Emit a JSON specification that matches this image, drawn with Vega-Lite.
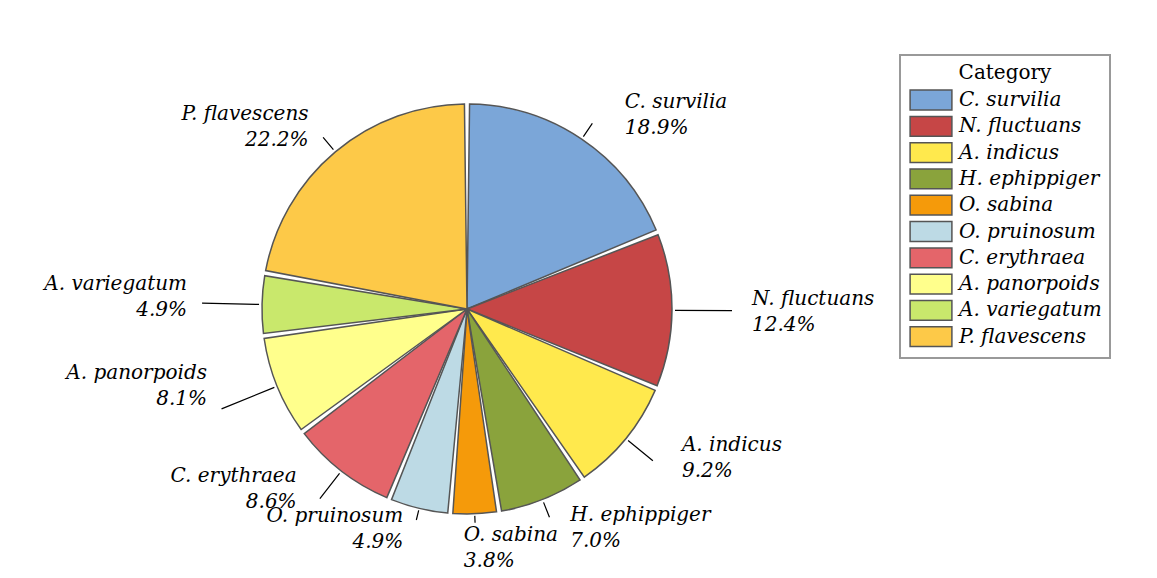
{
  "$schema": "https://vega.github.io/schema/vega-lite/v6.json",
  "width": 934,
  "height": 538,
  "autosize": {"type": "none"},
  "padding": {"left": 0, "top": 40, "right": 223, "bottom": 0},
  "background": "white",
  "config": {"view": {"stroke": null}, "font": "DejaVu Serif"},
  "data": {
    "values": [
      {"species": "C. survilia", "pct": 18.9, "rank": 1},
      {"species": "N. fluctuans", "pct": 12.4, "rank": 2},
      {"species": "A. indicus", "pct": 9.2, "rank": 3},
      {"species": "H. ephippiger", "pct": 7.0, "rank": 4},
      {"species": "O. sabina", "pct": 3.8, "rank": 5},
      {"species": "O. pruinosum", "pct": 4.9, "rank": 6},
      {"species": "C. erythraea", "pct": 8.6, "rank": 7},
      {"species": "A. panorpoids", "pct": 8.1, "rank": 8},
      {"species": "A. variegatum", "pct": 4.9, "rank": 9},
      {"species": "P. flavescens", "pct": 22.2, "rank": 10}
    ]
  },
  "transform": [
    {"calculate": "datum.species + '\\n' + format(datum.pct, '.1f') + '%'", "as": "label"}
  ],
  "encoding": {
    "theta": {"field": "pct", "type": "quantitative", "stack": true},
    "order": {"field": "rank", "type": "quantitative"},
    "detail": {"field": "species", "type": "nominal"}
  },
  "layer": [
    {
      "mark": {"type": "arc", "radius": 205, "stroke": "#555555", "strokeWidth": 1.5, "padAngle": 0.025},
      "encoding": {
        "color": {
          "field": "species",
          "type": "nominal",
          "scale": {
            "domain": ["C. survilia", "N. fluctuans", "A. indicus", "H. ephippiger", "O. sabina", "O. pruinosum", "C. erythraea", "A. panorpoids", "A. variegatum", "P. flavescens"],
            "range": ["#7BA6D8", "#C64646", "#FFE94D", "#8AA33C", "#F59A0A", "#BDDAE5", "#E4656A", "#FFFF8C", "#C9E86C", "#FDC948"]
          },
          "legend": {
            "title": "Category",
            "orient": "none",
            "legendX": 900,
            "legendY": 15,
            "symbolType": "M-1.9,-0.9H1.9V0.9H-1.9Z",
            "symbolSize": 484,
            "symbolStrokeColor": "#555555",
            "symbolStrokeWidth": 1.5,
            "symbolOpacity": 1,
            "labelFont": "DejaVu Serif",
            "labelFontStyle": "italic",
            "labelFontSize": 20,
            "labelColor": "black",
            "labelLimit": 400,
            "labelOffset": 16,
            "symbolOffset": 11,
            "titleFont": "DejaVu Serif",
            "titleFontSize": 20,
            "titleFontWeight": "normal",
            "titleColor": "black",
            "titleAnchor": "middle",
            "titlePadding": 5,
            "strokeColor": "#999999",
            "fillColor": "white",
            "padding": 8,
            "rowPadding": 0.3,
            "encode": {"legend": {"update": {"strokeWidth": {"value": 2}}}}
          }
        }
      }
    },
    {
      "mark": {"type": "arc", "outerRadius": 224, "innerRadius": 208, "padAngle": 3, "stroke": "black", "strokeWidth": 1.2, "fillOpacity": 0},
      "encoding": {"strokeOpacity": {"condition": {"test": "indexof(['C. survilia','H. ephippiger','P. flavescens'], datum.species) >= 0", "value": 1}, "value": 0}}
    },
    {
      "mark": {"type": "arc", "outerRadius": 217, "innerRadius": 207, "padAngle": 3, "stroke": "black", "strokeWidth": 1.2, "fillOpacity": 0},
      "encoding": {"strokeOpacity": {"condition": {"test": "datum.species === 'O. pruinosum'", "value": 1}, "value": 0}}
    },
    {
      "mark": {"type": "arc", "outerRadius": 214, "innerRadius": 207, "padAngle": 3, "stroke": "black", "strokeWidth": 1.2, "fillOpacity": 0},
      "encoding": {"strokeOpacity": {"condition": {"test": "datum.species === 'O. sabina'", "value": 1}, "value": 0}}
    },
    {
      "mark": {"type": "arc", "outerRadius": 240, "innerRadius": 208, "padAngle": 3, "stroke": "black", "strokeWidth": 1.2, "fillOpacity": 0},
      "encoding": {"strokeOpacity": {"condition": {"test": "indexof(['A. indicus','C. erythraea'], datum.species) >= 0", "value": 1}, "value": 0}}
    },
    {
      "mark": {"type": "arc", "outerRadius": 265, "innerRadius": 208, "padAngle": 3, "stroke": "black", "strokeWidth": 1.2, "fillOpacity": 0},
      "encoding": {"strokeOpacity": {"condition": {"test": "indexof(['N. fluctuans','A. panorpoids','A. variegatum'], datum.species) >= 0", "value": 1}, "value": 0}}
    },
    {
      "mark": {"type": "text", "radius": 250, "dx": 18, "dy": 0, "align": "left", "baseline": "middle", "font": "DejaVu Serif", "fontStyle": "italic", "fontSize": 20, "lineBreak": "\n", "lineHeight": 26, "color": "black"},
      "encoding": {"text": {"condition": {"test": "datum.species === 'C. survilia'", "field": "label", "type": "nominal"}, "value": ""}}
    },
    {
      "mark": {"type": "text", "radius": 285, "dx": 0, "dy": -12, "align": "left", "baseline": "middle", "font": "DejaVu Serif", "fontStyle": "italic", "fontSize": 20, "lineBreak": "\n", "lineHeight": 26, "color": "black"},
      "encoding": {"text": {"condition": {"test": "datum.species === 'N. fluctuans'", "field": "label", "type": "nominal"}, "value": ""}}
    },
    {
      "mark": {"type": "text", "radius": 262, "dx": 12, "dy": -30, "align": "left", "baseline": "middle", "font": "DejaVu Serif", "fontStyle": "italic", "fontSize": 20, "lineBreak": "\n", "lineHeight": 26, "color": "black"},
      "encoding": {"text": {"condition": {"test": "datum.species === 'A. indicus'", "field": "label", "type": "nominal"}, "value": ""}}
    },
    {
      "mark": {"type": "text", "radius": 237, "dx": 16, "dy": -14, "align": "left", "baseline": "middle", "font": "DejaVu Serif", "fontStyle": "italic", "fontSize": 20, "lineBreak": "\n", "lineHeight": 26, "color": "black"},
      "encoding": {"text": {"condition": {"test": "datum.species === 'H. ephippiger'", "field": "label", "type": "nominal"}, "value": ""}}
    },
    {
      "mark": {"type": "text", "radius": 234, "dx": -12, "dy": -8, "align": "left", "baseline": "middle", "font": "DejaVu Serif", "fontStyle": "italic", "fontSize": 20, "lineBreak": "\n", "lineHeight": 26, "color": "black"},
      "encoding": {"text": {"condition": {"test": "datum.species === 'O. sabina'", "field": "label", "type": "nominal"}, "value": ""}}
    },
    {
      "mark": {"type": "text", "radius": 226, "dx": -11, "dy": -13, "align": "right", "baseline": "middle", "font": "DejaVu Serif", "fontStyle": "italic", "fontSize": 20, "lineBreak": "\n", "lineHeight": 26, "color": "black"},
      "encoding": {"text": {"condition": {"test": "datum.species === 'O. pruinosum'", "field": "label", "type": "nominal"}, "value": ""}}
    },
    {
      "mark": {"type": "text", "radius": 247, "dx": -19, "dy": -28, "align": "right", "baseline": "middle", "font": "DejaVu Serif", "fontStyle": "italic", "fontSize": 20, "lineBreak": "\n", "lineHeight": 26, "color": "black"},
      "encoding": {"text": {"condition": {"test": "datum.species === 'C. erythraea'", "field": "label", "type": "nominal"}, "value": ""}}
    },
    {
      "mark": {"type": "text", "radius": 271, "dx": -9, "dy": -38, "align": "right", "baseline": "middle", "font": "DejaVu Serif", "fontStyle": "italic", "fontSize": 20, "lineBreak": "\n", "lineHeight": 26, "color": "black"},
      "encoding": {"text": {"condition": {"test": "datum.species === 'A. panorpoids'", "field": "label", "type": "nominal"}, "value": ""}}
    },
    {
      "mark": {"type": "text", "radius": 280, "dx": 0, "dy": -19, "align": "right", "baseline": "middle", "font": "DejaVu Serif", "fontStyle": "italic", "fontSize": 20, "lineBreak": "\n", "lineHeight": 26, "color": "black"},
      "encoding": {"text": {"condition": {"test": "datum.species === 'A. variegatum'", "field": "label", "type": "nominal"}, "value": ""}}
    },
    {
      "mark": {"type": "text", "radius": 242, "dx": -3, "dy": -10, "align": "right", "baseline": "middle", "font": "DejaVu Serif", "fontStyle": "italic", "fontSize": 20, "lineBreak": "\n", "lineHeight": 26, "color": "black"},
      "encoding": {"text": {"condition": {"test": "datum.species === 'P. flavescens'", "field": "label", "type": "nominal"}, "value": ""}}
    }
  ]
}
